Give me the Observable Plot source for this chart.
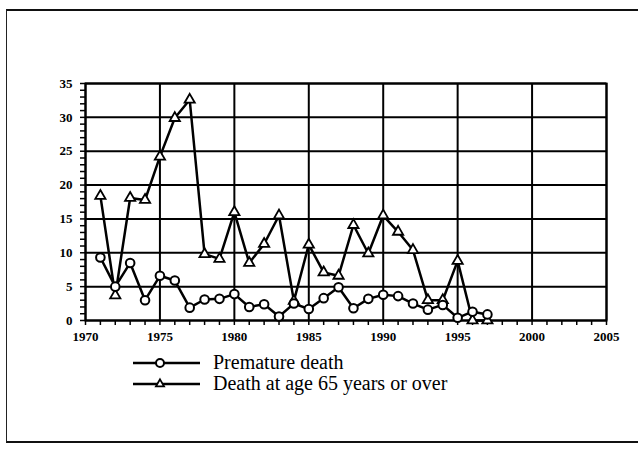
<!DOCTYPE html>
<html>
<head>
<meta charset="utf-8">
<script src="https://cdn.jsdelivr.net/npm/d3@7"></script>
<script src="https://cdn.jsdelivr.net/npm/@observablehq/plot@0.6"></script>
<style>
  html, body { margin: 0; padding: 0; background: #fff; }
  #wrap { position: relative; width: 638px; height: 451px; overflow: hidden; background: #fff; font-family: "Liberation Serif", "DejaVu Serif", serif; }
  #frame { position: absolute; left: 6px; top: 9px; width: 640px; height: 434px; border-top: 2px solid #111; border-left: 1.5px solid #222; border-bottom: 2px solid #111; box-sizing: border-box; pointer-events: none; }
  #chart { position: absolute; left: 0; top: 0; }
  #legend { position: absolute; left: 133px; top: 352px; font-size: 20px; color: #000; }
  .row { display: flex; align-items: center; height: 21px; }
  .row svg { margin-right: 13px; }
</style>
</head>
<body>
<div id="wrap">
  <div id="chart"></div>
  <div id="legend"></div>
  <div id="frame"></div>
</div>
<script>
const years = [1971,1972,1973,1974,1975,1976,1977,1978,1979,1980,1981,1982,1983,1984,1985,1986,1987,1988,1989,1990,1991,1992,1993,1994,1995,1996,1997];
const premature = [9.3,5.0,8.5,3.0,6.6,5.9,1.9,3.1,3.2,3.9,2.0,2.4,0.6,2.5,1.7,3.3,4.9,1.8,3.2,3.8,3.6,2.5,1.6,2.3,0.4,1.3,0.9];
const elderly = [18.4,3.7,18.1,17.8,24.2,29.9,32.6,9.8,9.1,16.0,8.5,11.3,15.5,2.9,11.2,7.1,6.6,14.1,9.9,15.5,13.1,10.4,3.0,3.0,8.8,0,0];
const seriesNames = ["Premature death", "Death at age 65 years or over"];
const xTicks = [1970,1975,1980,1985,1990,1995,2000,2005];
const yTicks = [0,5,10,15,20,25,30,35];

const rowsP = years.map((y,i) => ({year: y, value: premature[i]}));
const rowsE = years.map((y,i) => ({year: y, value: elderly[i]}));
const minorX = d3.range(1970, 2006, 1);
const minorY = d3.range(0, 36, 1);

const tickFont = {fontFamily: "Liberation Serif", fontWeight: "bold", fontSize: 13};

const chart = Plot.plot({
  width: 638,
  height: 350,
  marginLeft: 85,
  marginRight: 32,
  marginTop: 83,
  marginBottom: 30,
  style: {background: "transparent", color: "#000", fontFamily: "Liberation Serif", fontSize: "13px", fontWeight: "bold"},
  x: {domain: [1970, 2005]},
  y: {domain: [0, 35]},
  marks: [
    Plot.gridY(yTicks, {stroke: "#000", strokeOpacity: 1, strokeWidth: 2}),
    Plot.gridX(xTicks, {stroke: "#000", strokeOpacity: 1, strokeWidth: 2}),
    Plot.frame({stroke: "#000", strokeWidth: 2}),
    Plot.axisX(minorX, {tickSize: 5, strokeWidth: 1.5, text: null, label: null}),
    Plot.axisX(xTicks, {tickSize: 0, tickPadding: 11, tickFormat: d => String(d), label: null, ...tickFont}),
    Plot.axisY(minorY, {tickSize: 5, strokeWidth: 1.5, text: null, label: null}),
    Plot.axisY(yTicks, {tickSize: 0, tickPadding: 13, label: null, ...tickFont}),
    Plot.line(rowsE, {x: "year", y: "value", stroke: "#000", strokeWidth: 2.5}),
    Plot.line(rowsP, {x: "year", y: "value", stroke: "#000", strokeWidth: 2.5}),
    Plot.dot(rowsE, {x: "year", y: "value", symbol: "triangle", r: 3.8, fill: "#fff", stroke: "#000", strokeWidth: 1.8}),
    Plot.dot(rowsP, {x: "year", y: "value", symbol: "circle", r: 4.3, fill: "#fff", stroke: "#000", strokeWidth: 2})
  ]
});
document.getElementById("chart").appendChild(chart);

// Legend
const legend = document.getElementById("legend");
seriesNames.forEach((name, i) => {
  const row = document.createElement("div");
  row.className = "row";
  const ns = "http://www.w3.org/2000/svg";
  const s = document.createElementNS(ns, "svg");
  s.setAttribute("width", 67); s.setAttribute("height", 14);
  const l = document.createElementNS(ns, "line");
  l.setAttribute("x1", 0); l.setAttribute("x2", 67); l.setAttribute("y1", 7); l.setAttribute("y2", 7);
  l.setAttribute("stroke", "#000"); l.setAttribute("stroke-width", 2.5);
  s.appendChild(l);
  if (i === 0) {
    const c = document.createElementNS(ns, "circle");
    c.setAttribute("cx", 27); c.setAttribute("cy", 7); c.setAttribute("r", 4);
    c.setAttribute("fill", "#fff"); c.setAttribute("stroke", "#000"); c.setAttribute("stroke-width", 2);
    s.appendChild(c);
  } else {
    const p = d3.symbol(d3.symbolTriangle, 28)();
    const t = document.createElementNS(ns, "path");
    t.setAttribute("d", p); t.setAttribute("transform", "translate(27,7)");
    t.setAttribute("fill", "#fff"); t.setAttribute("stroke", "#000"); t.setAttribute("stroke-width", 1.8);
    s.appendChild(t);
  }
  row.appendChild(s);
  const txt = document.createElement("span");
  txt.textContent = name;
  row.appendChild(txt);
  legend.appendChild(row);
});
</script>
</body>
</html>
